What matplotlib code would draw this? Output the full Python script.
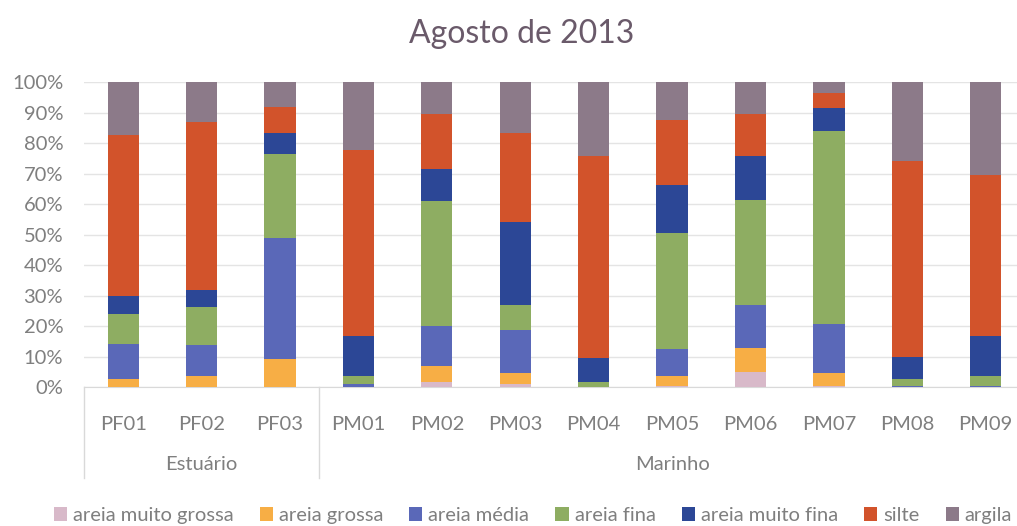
import numpy as np
import matplotlib.pyplot as plt
import matplotlib.transforms as mtransforms

plt.rcParams['font.family'] = ['Lato', 'DejaVu Sans']

estacoes = ["PF01", "PF02", "PF03", "PM01", "PM02", "PM03",
            "PM04", "PM05", "PM06", "PM07", "PM08", "PM09"]
grupos = ["Estuário", "Marinho"]
grupo_tam = [3, 9]

classes = ["areia muito grossa", "areia grossa", "areia média", "areia fina",
           "areia muito fina", "silte", "argila"]

# percentuais (%)
muito_grossa = [0.0, 0.0, 0.0, 0.0, 1.6, 0.9, 0.0, 0.5, 4.9, 0.5, 0.0, 0.0]
grossa       = [2.7, 3.5, 9.1, 0.0, 5.2, 3.8, 0.0, 3.3, 8.0, 4.1, 0.0, 0.0]
media        = [11.5, 10.4, 39.9, 0.9, 13.1, 13.9, 0.0, 8.8, 13.9, 16.2, 0.3, 0.5]
fina         = [9.8, 12.3, 27.5, 2.9, 41.1, 8.4, 1.6, 37.9, 34.6, 63.1, 2.4, 3.3]
muito_fina   = [6.0, 5.5, 6.8, 12.8, 10.5, 27.1, 7.9, 15.8, 14.2, 7.7, 7.1, 12.8]
silte        = [52.8, 55.2, 8.5, 61.2, 18.1, 29.2, 66.1, 21.1, 13.8, 4.8, 64.3, 52.8]
argila       = [17.2, 13.1, 8.2, 22.2, 10.4, 16.7, 24.4, 12.6, 10.6, 3.6, 25.9, 30.6]

cores = ["#D8B9C9", "#F7AE45", "#5A68B8", "#8EAD62", "#2C4796", "#D2532B", "#8C7A89"]
cinza = "#7F7F7F"

series = [muito_grossa, grossa, media, fina, muito_fina, silte, argila]
dados = np.array(series)
dados = dados / dados.sum(axis=0)

fig = plt.figure(figsize=(10.17, 5.26), dpi=100)
ax = fig.add_axes([0.0826, 0.264, 0.9174, 0.580])

x = np.arange(len(estacoes))
base = np.zeros(len(estacoes))
for nome, vals, cor in zip(classes, dados, cores):
    ax.bar(x, vals, 0.4, bottom=base, color=cor, label=nome, zorder=3)
    base += vals

ax.set_xlim(-0.5, 11.4)
ax.set_ylim(0, 1)
ax.set_yticks(np.arange(0, 1.01, 0.1))
ax.set_yticklabels([f"{int(round(v * 100))}%" for v in np.arange(0, 1.01, 0.1)])
ax.yaxis.grid(True, color="#E4E4E4", linewidth=1, zorder=0)
for s in ["top", "right", "left"]:
    ax.spines[s].set_visible(False)
ax.spines["bottom"].set_color("#D9D9D9")
ax.tick_params(axis="y", length=0, labelsize=14.5, colors=cinza, pad=15)
ax.tick_params(axis="x", length=0, labelsize=14.5, colors=cinza, pad=21)
ax.set_xticks(x)
ax.set_xticklabels(estacoes)

# rótulos de grupo e separadores
trans = mtransforms.blended_transform_factory(ax.transData, ax.transAxes)
inicio = -0.5
for g, n in zip(grupos, grupo_tam):
    ax.plot([inicio, inicio], [0, -0.298], color="#D9D9D9", lw=1,
            transform=trans, clip_on=False)
    ax.text(inicio + n / 2, -0.255, g, transform=trans, ha="center", va="center",
            fontsize=14.5, color=cinza)
    inicio += n

fig.text(0.513, 0.935, "Agosto de 2013", ha="center", va="center",
         fontsize=23, color="#6A5A6A")

fig.legend(loc="center", bbox_to_anchor=(0.524, 0.02), ncol=7, frameon=False,
           fontsize=14.5, labelcolor=cinza, handlelength=0.65, handleheight=0.65,
           handletextpad=0.3, columnspacing=1.3)

fig.savefig("out.png", dpi=100)
